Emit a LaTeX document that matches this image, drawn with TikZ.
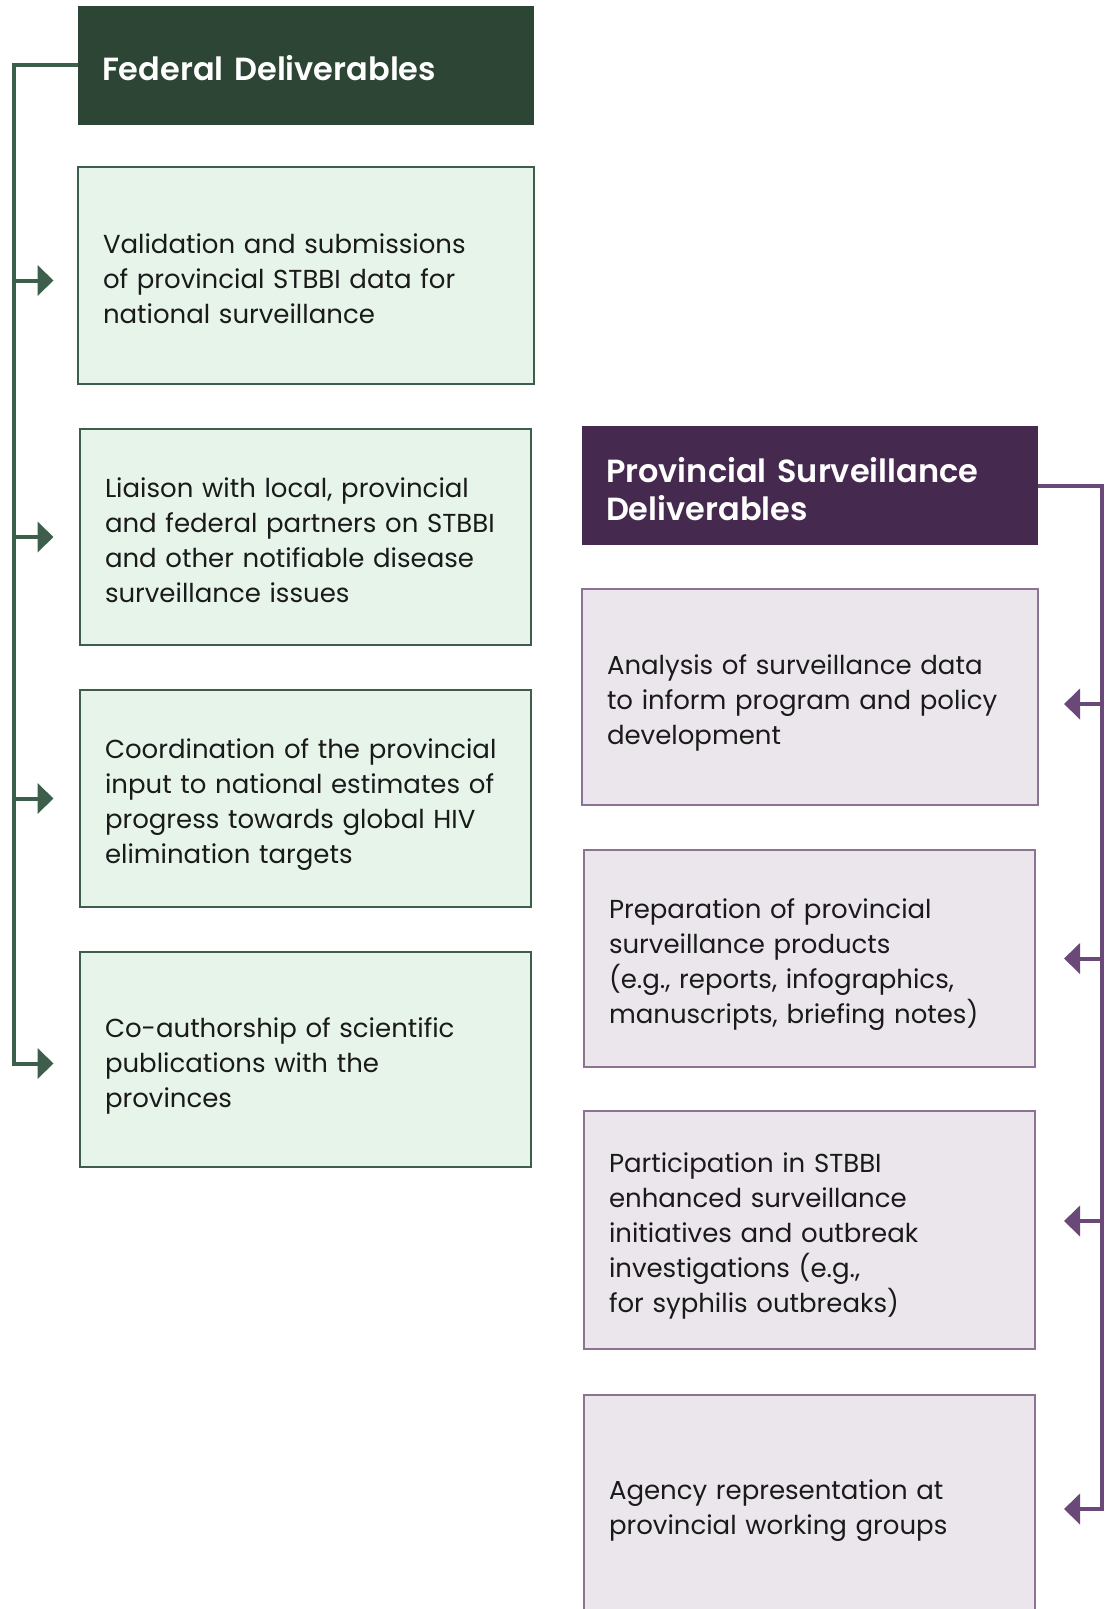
\documentclass[tikz,border=0pt]{standalone}
\usepackage{fontspec}
\setmainfont{Poppins}
\newfontfamily\headfont{Poppins SemiBold}
\usetikzlibrary{arrows.meta}
\definecolor{fhead}{HTML}{2C4535}
\definecolor{ffill}{HTML}{E7F4EA}
\definecolor{fline}{HTML}{3D5E4B}
\definecolor{phead}{HTML}{45294F}
\definecolor{pfill}{HTML}{EBE6EC}
\definecolor{pborder}{HTML}{8C7394}
\definecolor{pline}{HTML}{6A4877}
\definecolor{txt}{HTML}{1A1A1A}
\tikzset{
  bodytext/.style={font=\fontsize{26}{35}\selectfont, text=txt, align=left, text height=32pt},
  lines/.style={text depth={(#1-1)*35pt+7pt}},
  hlines/.style={text depth={(#1-1)*38pt+5pt}},
  fbox/.style={bodytext, draw=fline, line width=2.5pt, fill=ffill, minimum height=216pt, inner xsep=25pt, inner ysep=0pt},
  pbox/.style={bodytext, draw=pborder, line width=2.5pt, fill=pfill, minimum height=216pt, inner xsep=25pt, inner ysep=0pt},
  headbox/.style={font=\headfont\fontsize{32}{38}\selectfont, text=white, align=left, minimum height=119pt, inner xsep=24pt, inner ysep=0pt, text height=36pt},
  garrow/.style={draw=fline, line width=4pt, line join=miter, -{Triangle[length=16pt,width=30pt]}},
  parrow/.style={draw=pline, line width=4pt, line join=miter, -{Triangle[length=16pt,width=30pt]}}
}
\begin{document}
\begin{tikzpicture}[x=1pt,y=-1pt]
\useasboundingbox (0,0) rectangle (1114,1609);
\clip (0,0) rectangle (1114,1609);
\fill[white] (0,0) rectangle (1114,1609);

% Federal column
\node[headbox, hlines=1, fill=fhead, minimum width=456pt, text width=408pt] (fh) at (306,65) {Federal Deliverables};
\node[fbox, lines=3, minimum width=456pt, minimum height=217pt, text width=406pt] (f1) at (306,275.5)
  {Validation and submissions\\of provincial STBBI data for\\national surveillance};
\node[fbox, lines=4, minimum width=451pt, text width=401pt] (f2) at (305.5,537)
  {Liaison with local, provincial\\and federal partners on STBBI\\and other notifiable disease\\surveillance issues};
\node[fbox, lines=4, minimum width=451pt, minimum height=217pt, text width=401pt] (f3) at (305.5,798.5)
  {Coordination of the provincial\\input to national estimates of\\progress towards global HIV\\elimination targets};
\node[fbox, lines=3, minimum width=451pt, minimum height=215pt, text width=401pt] (f4) at (305.5,1059.5)
  {Co-authorship of scientific\\publications with the\\provinces};

\coordinate (lsp) at (13.5,0);
\coordinate (ltip) at (53.5,0);
\draw[garrow] (fh.west) -- (lsp |- fh.west) |- ([yshift=-4pt]ltip |- f4.west);
\draw[garrow] ([yshift=-5pt]lsp |- f1.west) -- ([yshift=-5pt]ltip |- f1.west);
\draw[garrow] (lsp |- f2.west) -- (ltip |- f2.west);
\draw[garrow] (lsp |- f3.west) -- (ltip |- f3.west);

% Provincial column
\node[headbox, hlines=2, fill=phead, minimum width=456pt, text width=408pt] (ph) at (810,485.5)
  {Provincial Surveillance\\Deliverables};
\node[pbox, lines=3, minimum width=456pt, text width=406pt] (p1) at (810,697)
  {Analysis of surveillance data\\to inform program and policy\\development};
\node[pbox, lines=4, minimum width=451pt, minimum height=217pt, text width=401pt] (p2) at (809.5,958.5)
  {Preparation of provincial\\surveillance products\\(e.g., reports, infographics,\\manuscripts, briefing notes)};
\node[pbox, lines=5, minimum width=451pt, minimum height=238pt, text width=401pt] (p3) at (809.5,1230)
  {Participation in STBBI\\enhanced surveillance\\initiatives and outbreak\\investigations (e.g.,\\for syphilis outbreaks)};
\node[pbox, lines=2, minimum width=451pt, minimum height=218pt, text width=401pt] (p4) at (809.5,1504)
  {Agency representation at\\provincial working groups};

\coordinate (rsp) at (1102,0);
\coordinate (rtip) at (1064,0);
\draw[parrow] (ph.east) -- (rsp |- ph.east) |- ([yshift=-5pt]rtip |- p4.east);
\draw[parrow] ([yshift=-7pt]rsp |- p1.east) -- ([yshift=-7pt]rtip |- p1.east);
\draw[parrow] (rsp |- p2.east) -- (rtip |- p2.east);
\draw[parrow] ([yshift=9pt]rsp |- p3.east) -- ([yshift=9pt]rtip |- p3.east);
\end{tikzpicture}
\end{document}
